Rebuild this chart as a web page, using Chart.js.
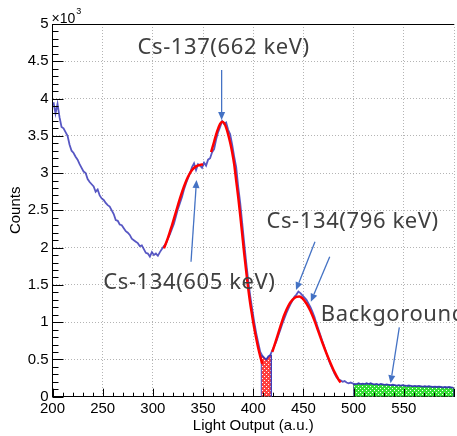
<!DOCTYPE html>
<html><head><meta charset="utf-8">
<script src="https://cdn.jsdelivr.net/npm/chart.js"></script>
<style>html,body{margin:0;padding:0;background:#fff;overflow:hidden}</style>
</head><body>
<canvas id="c" width="457" height="436"></canvas>
<script>
// ---- data ----
const binLowEdge = 200;
const binWidth = 2;
const counts = [
  3950, 3800, 3930, 3750, 3620, 3600, 3550, 3500, 3380, 3300,
  3270, 3220, 3180, 3120, 3070, 3020, 3000, 2920, 2880, 2850,
  2820, 2750, 2780, 2700, 2660, 2640, 2600, 2570, 2550, 2500,
  2450, 2370, 2360, 2310, 2300, 2260, 2220, 2200, 2170, 2120,
  2100, 2080, 2060, 2020, 2030, 1980, 1930, 1920, 1880, 1940,
  1900, 1920, 1890, 1940, 1980, 2020, 2050, 2120, 2180, 2250,
  2320, 2420, 2520, 2600, 2680, 2780, 2860, 2930, 3000, 3080,
  3130, 3040, 3120, 3100, 3070, 3140, 3100, 3180, 3200, 3280,
  3320, 3450, 3550, 3620, 3700, 3660, 3680, 3580, 3520, 3380,
  3220, 3080, 2820, 2600, 2330, 2060, 1800, 1560, 1350, 1170,
  1000, 850, 720, 600, 550, 520, 500, 540, 560, 620,
  680, 740, 820, 900, 980, 1050, 1120, 1180, 1240, 1290,
  1340, 1370, 1410, 1390, 1360, 1330, 1300, 1250, 1200, 1140,
  1070, 980, 900, 820, 740, 660, 580, 500, 430, 370,
  310, 260, 230, 220, 200, 210, 190, 180, 190, 180,
  170, 170, 180, 170, 175, 170, 180, 170, 180, 170,
  165, 170, 160, 170, 165, 160, 165, 160, 155, 160,
  155, 150, 155, 150, 155, 150, 145, 150, 145, 140,
  145, 140, 145, 140, 135, 140, 135, 140, 135, 130,
  135, 130, 135, 130, 125, 130, 125, 130, 125, 120
];
const fit605X = [311, 315, 319, 323, 327, 331, 335, 339, 343, 347, 350];
const fit605Y = [1990, 2130, 2300, 2480, 2660, 2820, 2950, 3040, 3090, 3110, 3115];
const fit662X = [358, 361, 364, 367, 369, 371, 373, 375, 377, 379, 381, 383, 385, 387, 389, 391, 393, 395, 397, 399, 401, 403, 405, 407, 409];
const fit662Y = [3280, 3420, 3560, 3660, 3690, 3670, 3610, 3520, 3410, 3280, 3120, 2900, 2680, 2440, 2180, 1920, 1680, 1450, 1250, 1080, 920, 780, 650, 540, 440];
const fit796X = [419, 423, 427, 431, 435, 439, 443, 446, 449, 453, 457, 461, 465, 469, 473, 477, 481, 485, 487];
const fit796Y = [600, 770, 940, 1100, 1220, 1300, 1340, 1345, 1320, 1250, 1150, 1020, 870, 720, 580, 450, 330, 230, 190];
const peakRegion = [408, 418];
const backgroundRegion = [500, 600];
const xTickLabels = ['200', '250', '300', '350', '400', '450', '500', '550', ''];
const yTickLabels = ['0', '0.5', '1', '1.5', '2', '2.5', '3', '3.5', '4', '4.5', '5'];
const noteLabels = [
  {text: 'Cs-137(662 keV)', x: 370.5, y: 4685, align: 'center'},
  {text: 'Cs-134(605 keV)', x: 336.4, y: 1525, align: 'center'},
  {text: 'Cs-134(796 keV)', x: 499, y: 2344, align: 'center'},
  {text: 'Backgoround', x: 467.3, y: 1095, align: 'left'}
];
const noteArrows = [
  {from: [368.5, 4383], to: [368.5, 3711]},
  {from: [338, 1811], to: [343.5, 2907]},
  {from: [461.5, 2079], to: [442.6, 1430]},
  {from: [476.2, 1878], to: [457.4, 1274]},
  {from: [545.5, 930], to: [536.8, 180]}
];

// ---- build ----
const canvas = document.getElementById('c');
const ctx2d = canvas.getContext('2d');
function makePattern(color) {
  const t = document.createElement('canvas');
  t.width = 4; t.height = 4;
  const g = t.getContext('2d');
  g.fillStyle = color; g.fillRect(0, 0, 4, 4);
  g.fillStyle = '#ffffff';
  g.fillRect(0, 0, 1, 1); g.fillRect(2, 2, 1, 1);
  return ctx2d.createPattern(t, 'repeat');
}
const centre = i => binLowEdge + (i + 0.5) * binWidth;
const histPoints = counts.map((c, i) => ({x: centre(i), y: c}));
function regionPoints([lo, hi]) {
  const inside = [];
  counts.forEach((c, i) => {
    const x0 = binLowEdge + i * binWidth;
    if (x0 >= lo && x0 < hi) inside.push({x: centre(i), y: c});
  });
  return [{x: lo, y: 0}, {x: lo, y: inside[0].y}, ...inside,
          {x: hi, y: inside[inside.length - 1].y}, {x: hi, y: 0}];
}
const pairs = (xs, ys) => xs.map((x, i) => ({x, y: ys[i]}));

const tickFont = {family: '"Liberation Sans", Arial, sans-serif', size: 15};

const axisTicks = {
  id: 'axisTicks',
  afterDatasetsDraw(chart) {
    const {ctx, chartArea: a, scales: {x, y}} = chart;
    ctx.save();
    ctx.strokeStyle = '#000'; ctx.lineWidth = 1;
    ctx.beginPath();
    for (let v = x.min; v <= x.max + 1e-6; v += 10) {
      const px = Math.round(x.getPixelForValue(v)) + 0.5;
      const len = (Math.round(v - x.min) % 50 === 0) ? 8 : 4;
      ctx.moveTo(px, a.bottom); ctx.lineTo(px, a.bottom - len);
    }
    for (let v = y.min; v <= y.max + 1e-6; v += 100) {
      const py = Math.round(y.getPixelForValue(v)) + 0.5;
      const len = (Math.round(v) % 500 === 0) ? 11 : 6;
      ctx.moveTo(a.left, py); ctx.lineTo(a.left + len, py);
    }
    ctx.moveTo(a.left, Math.round(a.top) + 0.5); ctx.lineTo(a.right, Math.round(a.top) + 0.5);
    ctx.stroke();
    ctx.fillStyle = '#000';
    ctx.textAlign = 'left'; ctx.textBaseline = 'alphabetic';
    ctx.font = '14px "Liberation Sans", Arial, sans-serif';
    ctx.fillText('\u00d710', a.left - 1, a.top - 1);
    const w = ctx.measureText('\u00d710').width;
    ctx.font = '9px "Liberation Sans", Arial, sans-serif';
    ctx.fillText('3', a.left - 1 + w + 1, a.top - 10);
    ctx.restore();
  }
};

const notes = {
  id: 'notes',
  afterDatasetsDraw(chart) {
    const {ctx, scales: {x, y}} = chart;
    ctx.save();
    ctx.strokeStyle = '#4472c4'; ctx.fillStyle = '#4472c4'; ctx.lineWidth = 1.3;
    noteArrows.forEach(ar => {
      const x1 = x.getPixelForValue(ar.from[0]), y1 = y.getPixelForValue(ar.from[1]);
      const x2 = x.getPixelForValue(ar.to[0]), y2 = y.getPixelForValue(ar.to[1]);
      const ang = Math.atan2(y2 - y1, x2 - x1);
      const L = 8, W = 3.5;
      const bx = x2 - L * Math.cos(ang), by = y2 - L * Math.sin(ang);
      ctx.beginPath(); ctx.moveTo(x1, y1); ctx.lineTo(bx, by); ctx.stroke();
      ctx.beginPath();
      ctx.moveTo(x2, y2);
      ctx.lineTo(bx + W * Math.sin(ang), by - W * Math.cos(ang));
      ctx.lineTo(bx - W * Math.sin(ang), by + W * Math.cos(ang));
      ctx.closePath(); ctx.fill();
    });
    ctx.fillStyle = '#404040';
    ctx.font = '22px "Noto Sans", "Open Sans", sans-serif';
    if ('letterSpacing' in ctx) ctx.letterSpacing = '0.6px';
    ctx.textBaseline = 'middle';
    noteLabels.forEach(n => {
      ctx.textAlign = n.align;
      ctx.fillText(n.text, x.getPixelForValue(n.x), y.getPixelForValue(n.y));
    });
    ctx.restore();
  }
};

new Chart(canvas, {
  type: 'line',
  data: {
    datasets: [
      {label: 'fit605', data: pairs(fit605X, fit605Y), borderColor: '#ff0000', borderWidth: 2.5, pointRadius: 0, cubicInterpolationMode: 'monotone', fill: false, order: 0},
      {label: 'fit662', data: pairs(fit662X, fit662Y), borderColor: '#ff0000', borderWidth: 2.5, pointRadius: 0, cubicInterpolationMode: 'monotone', fill: false, order: 0},
      {label: 'fit796', data: pairs(fit796X, fit796Y), borderColor: '#ff0000', borderWidth: 2.5, pointRadius: 0, cubicInterpolationMode: 'monotone', fill: false, order: 0},
      {label: 'spectrum', data: histPoints, borderColor: 'rgba(45,45,180,0.8)', borderWidth: 1.8, pointRadius: 0, fill: false, order: 1},
      {label: 'peak', data: regionPoints(peakRegion), borderColor: 'rgba(60,60,190,0.9)', borderWidth: 1, backgroundColor: makePattern('#ff4040'), fill: 'origin', pointRadius: 0, order: 2},
      {label: 'background', data: regionPoints(backgroundRegion), borderColor: 'rgba(40,60,120,0.8)', borderWidth: 1, backgroundColor: makePattern('#33dd33'), fill: 'origin', pointRadius: 0, order: 2}
    ]
  },
  options: {
    responsive: false, animation: false, devicePixelRatio: 1,
    layout: {padding: {top: 24, right: 0, left: 0, bottom: 0}},
    plugins: {legend: {display: false}, tooltip: {enabled: false}},
    scales: {
      x: {
        type: 'linear', min: 200, max: 600,
        afterFit(s) { s.height = 39.3; },
        ticks: {stepSize: 50, autoSkip: false, maxRotation: 0, padding: 3, color: '#000', font: tickFont,
          callback: (v, i) => xTickLabels[i]},
        grid: {color: '#b4b4b4', drawTicks: false, lineWidth: 1},
        border: {display: true, color: '#000', width: 1, dash: [1, 2]},
        title: {display: true, text: 'Light Output (a.u.)', color: '#000', font: tickFont, padding: {top: 0, bottom: 1}}
      },
      y: {
        min: 0, max: 5000,
        afterFit(s) { s.width = 52.5; },
        ticks: {stepSize: 500, autoSkip: false, padding: 4, color: '#000', font: tickFont,
          callback: (v, i) => yTickLabels[i]},
        grid: {color: '#b4b4b4', drawTicks: false, lineWidth: 1},
        border: {display: true, color: '#000', width: 1, dash: [1, 2]},
        title: {display: true, text: 'Counts', color: '#000', font: tickFont, padding: {top: 7, bottom: 0}}
      }
    }
  },
  plugins: [axisTicks, notes]
});
</script>
</body></html>
